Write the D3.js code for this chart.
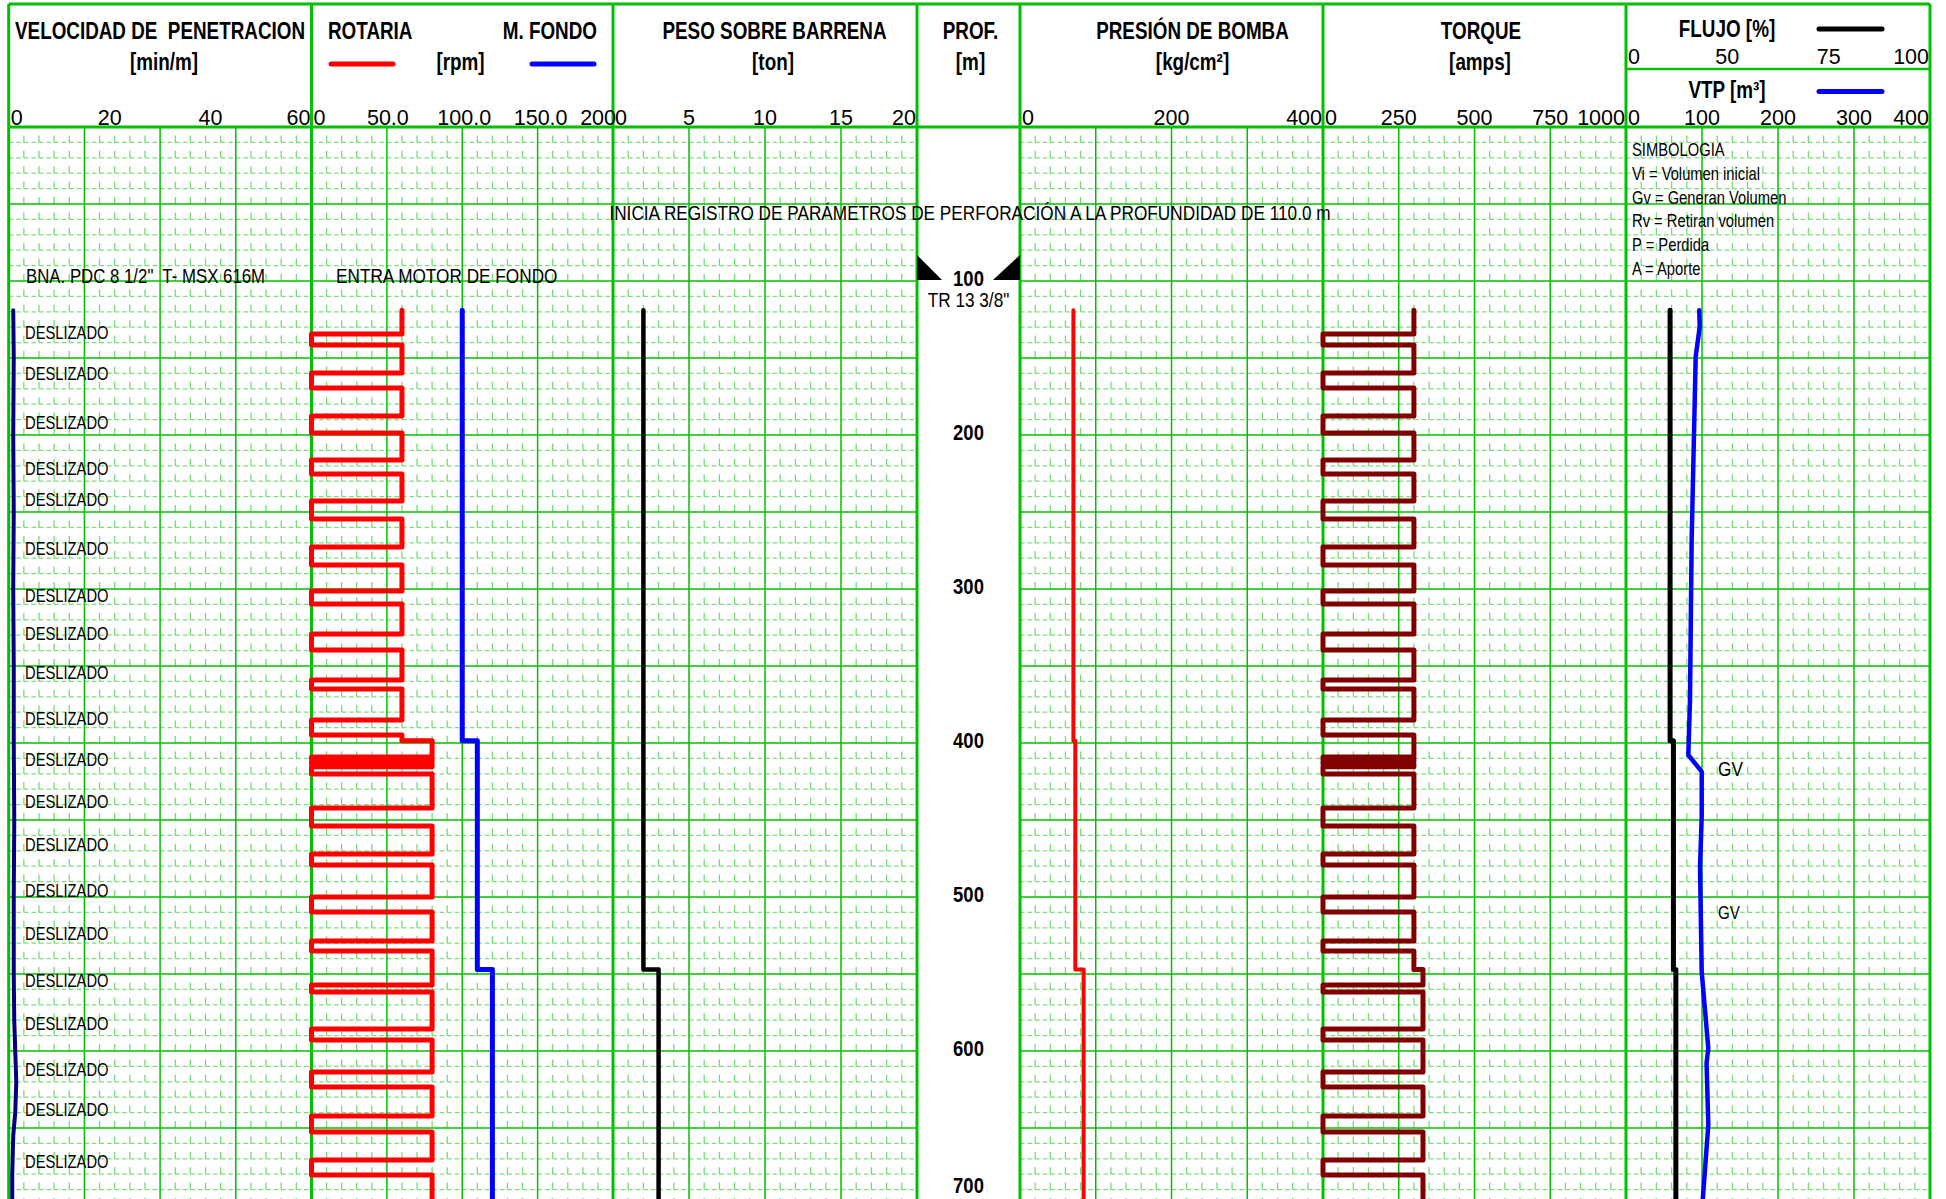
<!DOCTYPE html>
<html>
<head>
<meta charset="utf-8">
<script src="https://cdn.jsdelivr.net/npm/d3@7"></script>
<style>
  html, body { margin: 0; padding: 0; background: #fff; overflow: hidden; }
  svg { display: block; }
  text { font-family: "Liberation Sans", Arial, sans-serif; fill: #000; white-space: pre; }
</style>
</head>
<body>
<svg id="chart" width="1946" height="1199"></svg>
<script>
// ---------------- data ----------------
const depthTickLabels = [100, 200, 300, 400, 500, 600, 700];

// Velocidad de penetración [min/m]
const ropDepth = [119, 150, 200, 250, 300, 350, 400, 450, 500, 550, 580, 600, 620, 640, 655, 680, 700];
const ropMinM  = [0.9, 1.0, 0.9, 1.0, 0.9, 1.0, 1.0, 1.1, 1.0, 1.0, 1.1, 1.3, 1.5, 1.3, 0.9, 0.7, 0.7];

// Rotaria [rpm] – each value holds from its depth down to the next depth
const rotariaDepth = [119, 134.4, 141.6, 159.7, 169.5, 187.7, 198.7, 216.2, 225.3, 242.9, 254.5, 272.7, 284.4, 301.3, 309.7,
  329.2, 339.6, 359.1, 364.9, 385.1, 394.8, 398.5, 409.1, 410.6, 412.1, 413.6, 415.4, 420.1, 442.2, 453.9, 472.1, 479.2,
  500, 509.7, 528.6, 535.1, 557.1, 561.7, 585.7, 592.9, 613.6, 623.4, 642.2, 652.6, 670.8, 680.5, 720];
const rotariaRpm = [60, 0, 60, 0, 60, 0, 60, 0, 60, 0, 60, 0, 60, 0, 60,
  0, 60, 0, 60, 0, 60, 80, 0, 80, 0, 80, 0, 80, 0, 80, 0, 80,
  0, 80, 0, 80, 0, 80, 0, 80, 0, 80, 0, 80, 0, 80, 80];

// M. Fondo [rpm]
const fondoDepth = [119, 398.5, 547, 720];
const fondoRpm   = [100, 110, 120, 120];

// Peso sobre barrena [ton]
const pesoDepth = [119, 547, 720];
const pesoTon   = [2, 3, 3];

// Presión de bomba [kg/cm²]
const presionDepth = [119, 398.5, 547, 720];
const presionKg    = [70.5, 73, 84, 84];

// Torque [amps]
const torqueDepth = [119, 134.4, 141.6, 159.7, 169.5, 187.7, 198.7, 216.2, 225.3, 242.9, 254.5, 272.7, 284.4, 301.3, 309.7,
  329.2, 339.6, 359.1, 364.9, 385.1, 394.8, 409.1, 410.6, 412.1, 413.6, 415.4, 420.1, 442.2, 453.9, 472.1, 479.2,
  500, 509.7, 528.6, 535.1, 547, 557.1, 561.7, 585.7, 592.9, 613.6, 623.4, 642.2, 652.6, 670.8, 680.5, 720];
const torqueAmps = [300, 0, 300, 0, 300, 0, 300, 0, 300, 0, 300, 0, 300, 0, 300,
  0, 300, 0, 300, 0, 300, 0, 300, 0, 300, 0, 300, 0, 300, 0, 300,
  0, 300, 0, 300, 330, 0, 330, 0, 330, 0, 330, 0, 330, 0, 330, 330];

// Flujo [%]
const flujoDepth = [119, 398.5, 547, 720];
const flujoPct   = [14.5, 15.6, 16.4, 16.4];

// VTP [m³]
const vtpDepth = [119, 129.7, 149.2, 268, 372, 407.8, 418.6, 447.9, 480.3, 548.5, 598.3, 607.8, 648, 700];
const vtpM3    = [96.4, 97, 91.7, 86.4, 84.2, 82, 99.6, 99.6, 97.4, 99.6, 108.3, 106, 108.3, 100.5];

// annotations
const slideLabelDepth = [133.5, 160, 192, 221.5, 242, 274, 304, 328.6, 354.5, 384, 410.7, 438, 466, 496, 524, 554, 582, 612, 638, 672];
const gvLabelDepth = [417, 509.5];
const simbologia = ["SIMBOLOGIA", "Vi = Volumen inicial", "Gv = Generan Volumen", "Rv = Retiran volumen", "P = Perdida", "A = Aporte"];

// header tick labels
const ropTicks     = ["0", "20", "40", "60"];
const rpmTicks     = ["0", "50.0", "100.0", "150.0", "200"];
const pesoTicks    = ["0", "5", "10", "15", "20"];
const presionTicks = ["0", "200", "400"];
const torqueTicks  = ["0", "250", "500", "750", "1000"];
const flujoTicks   = ["0", "50", "75", "100"];
const vtpTicks     = ["0", "100", "200", "300", "400"];

// ---------------- layout ----------------
const W = 1946, H = 1199;
const TOP = 4, HEAD = 127, FLOW_DIV = 69;
const edges = [8.7, 311.5, 613, 917, 1020, 1323, 1626, 1930];
const GREEN = "#00c000";
const NARROW = 0.82;   // condensed lettering

const svg = d3.select("#chart");
svg.append("rect").attr("width", W).attr("height", H).attr("fill", "#fff");

const y = d3.scaleLinear().domain([0, 700]).range([HEAD, HEAD + 700 * 1.54]);

const xRop = d3.scaleLinear().domain([0, 60]).range([edges[0], edges[1]]);
const xRpm = d3.scaleLinear().domain([0, 200]).range([edges[1], edges[2]]);
const xPeso = d3.scaleLinear().domain([0, 20]).range([edges[2], edges[3]]);
const xPres = d3.scaleLinear().domain([0, 400]).range([edges[4], edges[5]]);
const xTorque = d3.scaleLinear().domain([0, 1000]).range([edges[5], edges[6]]);
const xFlujo = d3.scaleLinear().domain([0, 100]).range([edges[6], edges[7]]);
const xVtp = d3.scaleLinear().domain([0, 400]).range([edges[6], edges[7]]);

const gridTracks = [[0, 1], [1, 2], [2, 3], [4, 5], [5, 6], [6, 7]].map(([a, b]) => [edges[a], edges[b]]);

// ---------------- grid ----------------
const gGrid = svg.append("g");
const depthGrid = d3.range(10, 720, 10);
gridTracks.forEach(([a, b]) => {
  const gx = d3.scaleLinear().domain([0, 20]).range([a, b]);
  const cell = gx(1) - gx(0);
  // minor verticals: short dash ending on every minor row
  d3.range(1, 20).filter(i => i % 5 !== 0).forEach(i => {
    gGrid.append("line").attr("x1", gx(i)).attr("x2", gx(i)).attr("y1", HEAD).attr("y2", H)
      .attr("stroke", "#33cc33").attr("stroke-opacity", 0.68).attr("stroke-width", 1.3)
      .attr("stroke-dasharray", "7 8.4").attr("stroke-dashoffset", 7);
  });
  // minor horizontals: two dashes per cell
  depthGrid.filter(d => d % 50 !== 0).forEach(d => {
    gGrid.append("line").attr("x1", a).attr("x2", b).attr("y1", y(d)).attr("y2", y(d))
      .attr("stroke", "#33cc33").attr("stroke-opacity", 0.64).attr("stroke-width", 1.3)
      .attr("stroke-dasharray", cell * 0.3 + " " + cell * 0.2);
  });
  // major verticals
  [5, 10, 15].forEach(i => {
    gGrid.append("line").attr("x1", gx(i)).attr("x2", gx(i)).attr("y1", HEAD).attr("y2", H)
      .attr("stroke", GREEN).attr("stroke-width", 1.5);
  });
  // major horizontals
  depthGrid.filter(d => d % 50 === 0).forEach(d => {
    gGrid.append("line").attr("x1", a).attr("x2", b).attr("y1", y(d)).attr("y2", y(d))
      .attr("stroke", GREEN).attr("stroke-width", 1.5);
  });
});

// frame
const gFrame = svg.append("g").attr("stroke", GREEN).attr("stroke-width", 3);
edges.forEach(x => gFrame.append("line").attr("x1", x).attr("x2", x).attr("y1", TOP).attr("y2", H));
[TOP, HEAD].forEach(yy => gFrame.append("line").attr("x1", edges[0]).attr("x2", edges[7]).attr("y1", yy).attr("y2", yy));
gFrame.append("line").attr("x1", edges[6]).attr("x2", edges[7]).attr("y1", FLOW_DIV).attr("y2", FLOW_DIV).attr("stroke-width", 2.5);

// ---------------- curves ----------------
const gCurves = svg.append("g").attr("fill", "none").attr("stroke-linejoin", "round").attr("stroke-linecap", "round");

function stepPoints(depths, values) {
  const pts = [];
  for (let i = 0; i < depths.length - 1; i++) {
    pts.push([values[i], depths[i]], [values[i], depths[i + 1]]);
  }
  return pts;
}
function drawLine(points, xs, color, width) {
  const line = d3.line().x(d => xs(d[0])).y(d => y(d[1]));
  gCurves.append("path").attr("d", line(points)).attr("stroke", color).attr("stroke-width", width);
}

drawLine(d3.zip(ropMinM, ropDepth), xRop, "#000080", 4);
drawLine(stepPoints(rotariaDepth, rotariaRpm), xRpm, "#ff0000", 5);
drawLine(stepPoints(fondoDepth, fondoRpm), xRpm, "#0000ff", 5);
drawLine(stepPoints(pesoDepth, pesoTon), xPeso, "#000000", 4.5);
drawLine(stepPoints(presionDepth, presionKg), xPres, "#ff0000", 4);
drawLine(stepPoints(torqueDepth, torqueAmps), xTorque, "#800000", 5);
drawLine(stepPoints(flujoDepth, flujoPct), xFlujo, "#000000", 5);
drawLine(d3.zip(vtpM3, vtpDepth), xVtp, "#0000ff", 4.5);

// ---------------- text helper ----------------
function label(g, x, yy, txt, opts = {}) {
  const t = g.append("text").text(txt)
    .attr("text-anchor", opts.anchor || "start")
    .attr("font-size", opts.size || 21)
    .attr("font-weight", opts.bold ? "bold" : "normal");
  if (opts.narrow === false) {
    t.attr("x", x).attr("y", yy);
  } else {
    t.attr("x", 0).attr("y", 0).attr("transform", `translate(${x},${yy}) scale(${NARROW},1)`);
  }
  return t;
}

// ---------------- header ----------------
const gHead = svg.append("g");
const H1 = 39, H2 = 70, HS = 23;
label(gHead, 15, H1, "VELOCIDAD DE  PENETRACION", { size: HS, bold: true });
label(gHead, 164, H2, "[min/m]", { size: HS, bold: true, anchor: "middle" });
label(gHead, 328, H1, "ROTARIA", { size: HS, bold: true });
label(gHead, 597, H1, "M. FONDO", { size: HS, bold: true, anchor: "end" });
label(gHead, 460.5, H2, "[rpm]", { size: HS, bold: true, anchor: "middle" });
label(gHead, 774.5, H1, "PESO SOBRE BARRENA", { size: HS, bold: true, anchor: "middle" });
label(gHead, 773, H2, "[ton]", { size: HS, bold: true, anchor: "middle" });
label(gHead, 970.5, H1, "PROF.", { size: HS, bold: true, anchor: "middle" });
label(gHead, 970.5, H2, "[m]", { size: HS, bold: true, anchor: "middle" });
label(gHead, 1192.5, H1, "PRESIÓN DE BOMBA", { size: HS, bold: true, anchor: "middle" });
label(gHead, 1192.5, H2, "[kg/cm²]", { size: HS, bold: true, anchor: "middle" });
label(gHead, 1481, H1, "TORQUE", { size: HS, bold: true, anchor: "middle" });
label(gHead, 1480, H2, "[amps]", { size: HS, bold: true, anchor: "middle" });
label(gHead, 1727, 37, "FLUJO [%]", { size: 23, bold: true, anchor: "middle" });
label(gHead, 1727, 98, "VTP [m³]", { size: 23, bold: true, anchor: "middle" });

// legend swatches
const swatch = (x1, x2, yy, color) => gHead.append("line").attr("x1", x1).attr("x2", x2).attr("y1", yy).attr("y2", yy)
  .attr("stroke", color).attr("stroke-width", 5).attr("stroke-linecap", "round");
swatch(331, 393, 64, "#ff0000");
swatch(532, 594, 64, "#0000ff");
swatch(1819, 1882, 29, "#000000");
swatch(1819, 1882, 91.5, "#0000ff");

// scale numbers along each track
function tickRow(ticks, a, b, yy) {
  const p = d3.scalePoint().domain(ticks).range([a, b]);
  ticks.forEach((t, i) => {
    const anchor = i === 0 ? "start" : (i === ticks.length - 1 ? "end" : "middle");
    const dx = i === 0 ? 2 : (i === ticks.length - 1 ? -1 : 0);
    label(gHead, p(t) + dx, yy, t, { size: 21.5, anchor, narrow: false });
  });
}
tickRow(ropTicks, edges[0], edges[1], 125);
tickRow(rpmTicks, edges[1], edges[2] + 4, 125);
tickRow(pesoTicks, edges[2], edges[3], 125);
tickRow(presionTicks, edges[4], edges[5], 125);
tickRow(torqueTicks, edges[5], edges[6], 125);
tickRow(flujoTicks, edges[6], edges[7], 64);
tickRow(vtpTicks, edges[6], edges[7], 125);

// ---------------- depth track ----------------
const gDepth = svg.append("g");
const xMid = (edges[3] + edges[4]) / 2;
depthTickLabels.forEach(d => {
  // keep the last label inside the visible sheet
  const yy = Math.min(y(d) - 3, H - 14);
  label(gDepth, xMid, yy, String(d), { size: 22.5, bold: true, anchor: "middle" })
    .attr("dominant-baseline", "central");
});
// casing shoe 13 3/8" at 100 m
const shoe = 100, yShoe = y(shoe) - 1;
gDepth.append("path").attr("d", `M${edges[3]},${yShoe - 25}L${edges[3]},${yShoe}L${edges[3] + 25},${yShoe}Z`).attr("fill", "#000");
gDepth.append("path").attr("d", `M${edges[4]},${yShoe - 25}L${edges[4]},${yShoe}L${edges[4] - 27},${yShoe}Z`).attr("fill", "#000");
label(gDepth, xMid, yShoe + 27, "TR 13 3/8\"", { size: 21, anchor: "middle" });

// ---------------- annotations ----------------
const gNote = svg.append("g");
label(gNote, 970, 220, "INICIA REGISTRO DE PARÁMETROS DE PERFORACIÓN A LA PROFUNDIDAD DE 110.0 m", { size: 21, anchor: "middle" });
label(gNote, 26, 283, "BNA. PDC 8 1/2\"  T- MSX 616M", { size: 20.5 });
label(gNote, 336, 283, "ENTRA MOTOR DE FONDO", { size: 21 });
slideLabelDepth.forEach(d => label(gNote, 25, y(d) + 6.5, "DESLIZADO", { size: 18 }));
gvLabelDepth.forEach((d, i) => label(gNote, 1718, y(d) + 7, "GV", { size: i === 0 ? 21 : 18.5 }));
simbologia.forEach((t, i) => label(gNote, 1632, 156 + i * 23.8, t, { size: 18 }));
</script>
</body>
</html>
